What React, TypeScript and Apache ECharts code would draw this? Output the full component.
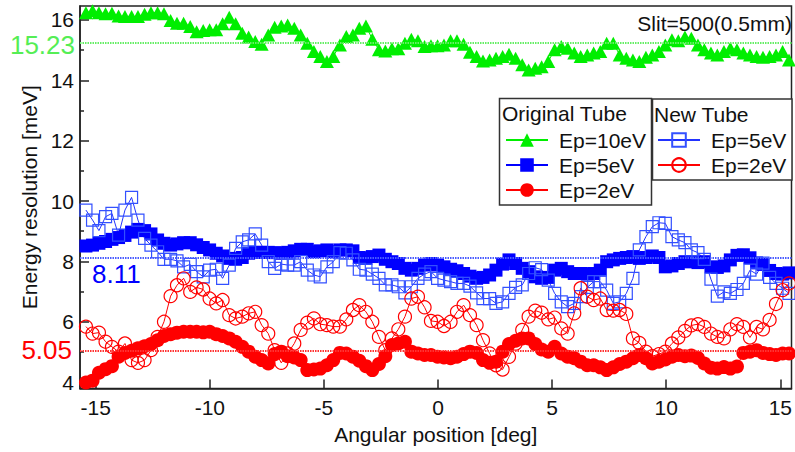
import React, { useEffect, useRef } from "react";
import * as echarts from "echarts";

// Angular positions of the scan [deg]
const angles = [
  -15.43, -15.14, -14.86, -14.57, -14.29, -14.0, -13.72, -13.43, -13.15, -12.86,
  -12.58, -12.29, -12.01, -11.72, -11.44, -11.15, -10.86, -10.58, -10.29, -10.01,
  -9.72, -9.44, -9.15, -8.87, -8.58, -8.3, -8.01, -7.73, -7.44, -7.16,
  -6.87, -6.59, -6.3, -6.02, -5.73, -5.44, -5.16, -4.87, -4.59, -4.3,
  -4.02, -3.73, -3.45, -3.16, -2.88, -2.59, -2.31, -2.02, -1.74, -1.45,
  -1.17, -0.88, -0.59, -0.31, -0.02, 0.26, 0.55, 0.83, 1.12, 1.4,
  1.69, 1.97, 2.26, 2.54, 2.83, 3.11, 3.4, 3.69, 3.97, 4.26,
  4.54, 4.83, 5.11, 5.4, 5.68, 5.97, 6.25, 6.54, 6.82, 7.11,
  7.39, 7.68, 7.96, 8.25, 8.54, 8.82, 9.11, 9.39, 9.68, 9.96,
  10.25, 10.53, 10.82, 11.1, 11.39, 11.67, 11.96, 12.24, 12.53, 12.81,
  13.1, 13.38, 13.67, 13.96, 14.24, 14.53, 14.81, 15.1, 15.38,
];

// Original tube, Ep = 10 eV [meV]
const originalEp10 = [
  16.24, 16.3, 16.24, 16.2, 16.22, 16.13, 16.11, 16.11, 16.11, 16.19,
  16.24, 16.24, 16.2, 15.98, 15.89, 15.89, 15.78, 15.61, 15.65, 15.67,
  15.67, 15.87, 16.09, 15.87, 15.56, 15.43, 15.28, 15.19, 15.5, 15.76,
  15.8, 15.83, 15.72, 15.5, 15.23, 14.95, 14.79, 14.62, 14.79, 15.17,
  15.45, 15.5, 15.72, 15.8, 15.36, 15.01, 14.97, 15.04, 15.04, 15.23,
  15.36, 15.31, 15.12, 15.14, 15.14, 15.17, 15.31, 15.31, 15.19, 14.93,
  14.79, 14.64, 14.67, 14.73, 14.79, 14.86, 14.73, 14.51, 14.34, 14.4,
  14.45, 14.62, 15.01, 15.12, 15.06, 14.9, 14.79, 14.84, 14.9, 14.95,
  15.23, 15.23, 14.84, 14.73, 14.67, 14.62, 14.76, 14.84, 14.95, 15.17,
  15.34, 15.31, 15.43, 15.39, 15.17, 15.01, 14.9, 14.84, 14.95, 15.06,
  15.01, 14.9, 14.84, 14.79, 14.76, 14.79, 14.84, 14.95, 14.67,
];

// Original tube, Ep = 5 eV [meV]
const originalEp5 = [
  8.51, 8.54, 8.6, 8.66, 8.73, 8.79, 8.86, 8.97, 9.06, 9.02,
  8.91, 8.71, 8.6, 8.54, 8.58, 8.62, 8.62, 8.55, 8.46, 8.38,
  8.27, 8.18, 8.1, 8.07, 8.13, 8.27, 8.3, 8.3, 8.3, 8.29,
  8.27, 8.3, 8.35, 8.4, 8.4, 8.32, 8.35, 8.38, 8.32, 8.38,
  8.38, 8.35, 8.13, 8.1, 8.16, 8.21, 8.07, 7.99, 7.93, 7.77,
  7.71, 7.77, 7.88, 7.93, 7.88, 7.82, 7.74, 7.69, 7.6, 7.51,
  7.44, 7.47, 7.55, 7.71, 7.91, 8.05, 7.93, 7.77, 7.66, 7.49,
  7.44, 7.47, 7.71, 7.77, 7.66, 7.6, 7.6, 7.58, 7.6, 7.71,
  7.99, 8.05, 8.1, 8.13, 8.16, 8.1, 8.13, 8.18, 8.13, 7.82,
  7.85, 7.93, 7.99, 7.99, 7.96, 7.99, 7.82, 7.8, 7.85, 8.05,
  8.2, 8.22, 8.12, 7.95, 7.9, 7.7, 7.6, 7.58, 7.62,
];

// Original tube, Ep = 2 eV [meV]
const originalEp2 = [
  3.99, 4.05, 4.31, 4.43, 4.53, 4.84, 4.97, 5.04, 5.12, 5.19,
  5.26, 5.39, 5.53, 5.59, 5.64, 5.67, 5.67, 5.67, 5.65, 5.67,
  5.59, 5.53, 5.45, 5.34, 5.17, 5.01, 4.84, 4.73, 4.62, 4.93,
  5.01, 4.86, 4.82, 4.73, 4.4, 4.42, 4.45, 4.56, 4.73, 4.97,
  4.95, 4.84, 4.71, 4.53, 4.4, 4.6, 4.86, 5.23, 5.28, 5.34,
  5.01, 4.95, 4.9, 4.9, 4.84, 4.82, 4.79, 4.84, 4.93, 5.01,
  4.97, 4.73, 4.64, 4.68, 5.01, 5.26, 5.37, 5.45, 5.45, 5.26,
  5.08, 5.01, 5.17, 4.95, 4.84, 4.79, 4.68, 4.56, 4.56, 4.49,
  4.4, 4.49, 4.6, 4.68, 4.79, 4.9, 4.79, 4.62, 4.68, 4.75,
  4.84, 4.9, 4.86, 4.88, 4.8, 4.62, 4.48, 4.45, 4.5, 4.45,
  4.52, 4.97, 5.01, 5.06, 4.97, 4.93, 4.9, 4.95, 4.95,
];

// New tube, Ep = 5 eV [meV]
const newEp5 = [
  9.7, 9.37, 9.02, 9.48, 9.59, 8.87, 9.7, 10.12, 9.37, 8.76,
  8.54, 8.32, 8.07, 8.07, 8.02, 7.82, 7.9, 7.66, 7.49, 7.71,
  7.74, 7.44, 7.88, 8.43, 8.65, 8.71, 8.91, 8.54, 7.99, 7.77,
  7.91, 7.88, 7.88, 7.99, 7.71, 7.55, 7.49, 7.82, 7.99, 8.29,
  8.27, 8.05, 7.74, 7.71, 7.58, 7.44, 7.22, 7.22, 7.16, 6.96,
  7.16, 7.44, 7.58, 7.66, 7.44, 7.38, 7.33, 7.27, 7.27, 7.18,
  6.96, 6.77, 6.77, 6.61, 6.66, 6.94, 7.14, 7.22, 7.6, 7.79,
  7.73, 7.38, 6.94, 6.66, 6.5, 6.61, 6.83, 7.14, 7.33, 7.33,
  7.05, 6.61, 6.66, 6.94, 7.44, 8.38, 8.82, 9.15, 9.28, 9.26,
  8.82, 8.71, 8.62, 8.38, 8.29, 8.07, 7.41, 6.85, 6.99, 6.94,
  7.07, 7.27, 7.71, 7.58, 7.94, 7.47, 7.27, 7.11, 6.94,
];

// New tube, Ep = 2 eV [meV]
const newEp2 = [
  5.84, 5.61, 5.64, 5.34, 5.17, 5.01, 5.28, 4.73, 4.64, 4.73,
  5.06, 5.5, 6.0, 6.85, 7.21, 7.44, 6.99, 7.14, 7.07, 6.77,
  6.61, 6.72, 6.22, 6.11, 6.17, 6.28, 6.33, 5.89, 5.61, 5.06,
  4.64, 4.95, 5.28, 5.73, 5.97, 6.11, 5.92, 5.89, 5.84, 5.84,
  6.08, 6.39, 6.55, 6.33, 6.0, 5.5, 5.06, 5.45, 5.75, 6.17,
  6.77, 6.83, 6.48, 6.03, 6.0, 5.86, 6.0, 6.33, 6.55, 6.22,
  5.89, 5.39, 4.95, 4.56, 4.42, 4.84, 5.28, 5.73, 6.17, 6.37,
  6.3, 6.08, 6.14, 5.78, 5.61, 6.28, 7.11, 6.83, 6.72, 6.77,
  6.39, 6.37, 6.39, 6.26, 5.45, 5.3, 5.01, 4.86, 4.93, 5.01,
  5.28, 5.48, 5.7, 5.88, 5.92, 5.83, 5.61, 5.5, 5.45, 5.75,
  5.92, 5.83, 5.48, 5.83, 5.75, 6.06, 6.59, 7.05, 7.27,
];

// Mean resolution of each original-tube scan
const meanEp10 = 15.23;
const meanEp5 = 8.11;
const meanEp2 = 5.05;

const xTicks = [-15, -10, -5, 0, 5, 10, 15];
const yMajorTicks = [4, 6, 8, 10, 12, 14, 16];
const yMinorTicks = [5, 7, 9, 11, 13, 15];

const legendLabels: Record<string, string> = {
  orig10: "Ep=10eV",
  orig5: "Ep=5eV",
  orig2: "Ep=2eV",
  new5: "Ep=5eV",
  new2: "Ep=2eV",
};

const FONT = '"Liberation Sans", Arial, Helvetica, sans-serif';
const INK = "#111111";
const GREEN = "#00ee00";
const BLUE = "#0000ff";
const RED = "#ff0000";
const BLUE_LIGHT = "#3350ff";

const toPairs = (vals: number[]) => angles.map((a, i) => [a, vals[i]]);

export default function App() {
  const ref = useRef<HTMLDivElement>(null);

  useEffect(() => {
    const chart = echarts.init(ref.current!, null, { renderer: "svg" });

    const axisLine = { show: true, onZero: false, lineStyle: { color: "#222", width: 1.5 } };
    const tickStyle = { color: "#222", width: 1.5 };
    const labelFont = { fontSize: 21, color: INK, fontFamily: FONT };

    const legendCommon = {
      orient: "vertical",
      padding: 0,
      itemWidth: 42,
      itemHeight: 17,
      itemGap: 0,
      selectedMode: false,
      z: 10,
      formatter: (n: string) => legendLabels[n] ?? n,
      textStyle: {
        fontSize: 21,
        color: INK,
        fontFamily: FONT,
        lineHeight: 25,
        padding: [0, 0, 0, 6],
      },
    };

    const meanLabel = (color: string) => ({
      fontSize: 26,
      lineHeight: 20,
      fontFamily: FONT,
      color,
    });

    chart.setOption({
      animation: false,
      backgroundColor: "#ffffff",
      grid: {
        left: 80,
        right: 1,
        top: 6,
        bottom: 63.5,
        show: true,
        borderColor: "#222",
        borderWidth: 1.5,
      },
      xAxis: {
        type: "value",
        min: -15.69,
        max: 15.49,
        axisLine,
        axisTick: { show: true, inside: true, length: 9, customValues: xTicks, lineStyle: tickStyle },
        axisLabel: { ...labelFont, customValues: xTicks, margin: 8 },
        splitLine: { show: false },
        name: "Angular position [deg]",
        nameLocation: "middle",
        nameGap: 35,
        nameTextStyle: labelFont,
      },
      yAxis: [
        {
          type: "value",
          min: 3.79,
          max: 16.46,
          position: "left",
          axisLine,
          axisTick: { show: true, inside: true, length: 9, customValues: yMajorTicks, lineStyle: tickStyle },
          axisLabel: { ...labelFont, lineHeight: 16, customValues: yMajorTicks, margin: 6 },
          splitLine: { show: false },
          name: "Energy resolution [meV]",
          nameLocation: "middle",
          nameGap: 30,
          nameRotate: 90,
          nameTextStyle: labelFont,
        },
        {
          type: "value",
          min: 3.79,
          max: 16.46,
          position: "left",
          axisLine: { show: false, onZero: false },
          axisTick: { show: true, inside: true, length: 4, customValues: yMinorTicks, lineStyle: tickStyle },
          axisLabel: { show: false },
          splitLine: { show: false },
        },
      ],
      legend: [
        { ...legendCommon, data: ["orig10", "orig5", "orig2"], left: 505, top: 127.5 },
        { ...legendCommon, data: ["new5", "new2"], left: 657, top: 127.5 },
      ],
      graphic: [
        {
          type: "rect",
          z: 5,
          shape: { x: 499.5, y: 98.5, width: 152, height: 106.5 },
          style: { fill: "#fff", stroke: "#333", lineWidth: 1.5 },
        },
        {
          type: "rect",
          z: 5,
          shape: { x: 652.5, y: 99, width: 139.5, height: 81 },
          style: { fill: "#fff", stroke: "#333", lineWidth: 1.5 },
        },
        {
          type: "text",
          z: 11,
          x: 502,
          y: 113,
          style: {
            text: "Original Tube",
            fill: INK,
            fontSize: 21,
            fontFamily: FONT,
            align: "left",
            verticalAlign: "middle",
            textAlign: "left",
            textVerticalAlign: "middle",
          },
        },
        {
          type: "text",
          z: 11,
          x: 654,
          y: 114,
          style: {
            text: "New Tube",
            fill: INK,
            fontSize: 21,
            fontFamily: FONT,
            align: "left",
            verticalAlign: "middle",
            textAlign: "left",
            textVerticalAlign: "middle",
          },
        },
        {
          type: "text",
          z: 11,
          x: 792,
          y: 23,
          style: {
            text: "Slit=500(0.5mm)",
            fill: INK,
            fontSize: 21,
            fontFamily: FONT,
            align: "right",
            verticalAlign: "middle",
            textAlign: "right",
            textVerticalAlign: "middle",
          },
        },
      ],
      series: [
        {
          name: "orig10",
          type: "line",
          data: toPairs(originalEp10),
          symbol: "triangle",
          symbolSize: [14, 13],
          itemStyle: { color: GREEN },
          lineStyle: { color: GREEN, width: 1 },
          markLine: {
            silent: true,
            symbol: "none",
            lineStyle: { color: "#66ee66", type: [1.5, 1], width: 2 },
            label: {
              ...meanLabel("#55ee55"),
              position: "start",
              formatter: String(meanEp10),
              distance: 5,
              offset: [0, 2],
            },
            data: [{ yAxis: meanEp10 }],
          },
        },
        {
          name: "orig5",
          type: "line",
          data: toPairs(originalEp5),
          symbol: "rect",
          symbolSize: 13,
          itemStyle: { color: BLUE },
          lineStyle: { color: BLUE, width: 1 },
          markLine: {
            silent: true,
            symbol: "none",
            lineStyle: { color: "#4a5cff", type: [1.5, 1], width: 2 },
            label: {
              ...meanLabel(BLUE),
              position: "insideStartBottom",
              formatter: String(meanEp5),
              distance: [12, 6],
            },
            data: [{ yAxis: meanEp5 }],
          },
        },
        {
          name: "orig2",
          type: "line",
          data: toPairs(originalEp2),
          symbol: "circle",
          symbolSize: 14,
          itemStyle: { color: RED },
          lineStyle: { color: RED, width: 1 },
          markLine: {
            silent: true,
            symbol: "none",
            lineStyle: { color: "#ff3333", type: [1.5, 1], width: 2 },
            label: {
              ...meanLabel(RED),
              position: "start",
              formatter: String(meanEp2),
              distance: 8,
            },
            data: [{ yAxis: meanEp2 }],
          },
        },
        {
          name: "new5",
          type: "line",
          data: toPairs(newEp5),
          symbol: "rect",
          symbolSize: 12,
          itemStyle: { color: "transparent", borderColor: BLUE_LIGHT, borderWidth: 1.2 },
          lineStyle: { color: "#2233ff", width: 1 },
        },
        {
          name: "new2",
          type: "line",
          data: toPairs(newEp2),
          symbol: "circle",
          symbolSize: 13,
          itemStyle: { color: "transparent", borderColor: RED, borderWidth: 1.2 },
          lineStyle: { color: RED, width: 1 },
        },
      ],
    });

    return () => chart.dispose();
  }, []);

  return (
    <div
      ref={ref}
      style={{ position: "absolute", left: 0, top: 0, width: 795, height: 452, background: "#fff" }}
    />
  );
}
